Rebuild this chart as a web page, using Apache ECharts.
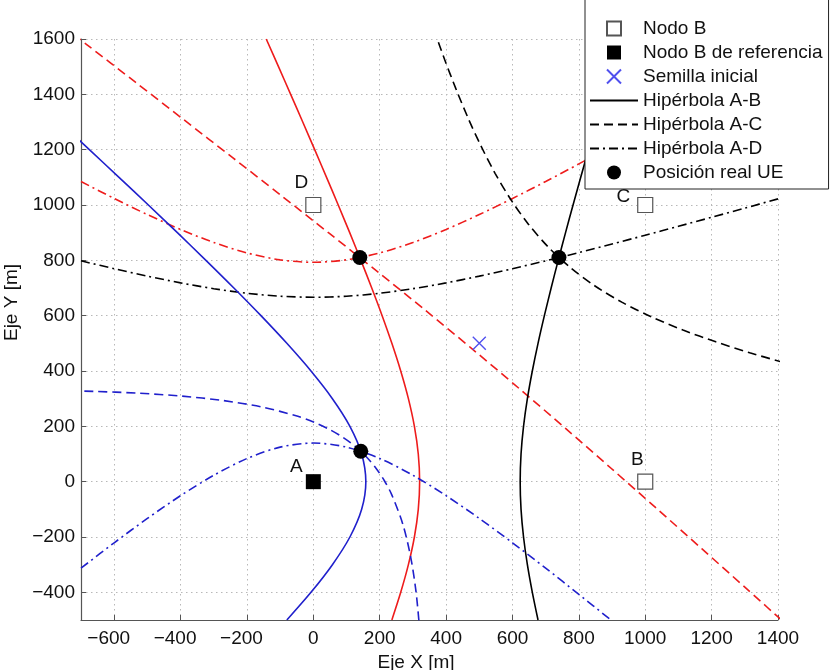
<!DOCTYPE html>
<html><head><meta charset="utf-8">
<script src="https://cdn.jsdelivr.net/npm/echarts@6/dist/echarts.min.js"></script>
<style>html,body{margin:0;padding:0;background:#fff}#c{width:830px;height:670px}</style>
</head><body><div id="c"></div>
<script>
// ---- tick labels ----
const xTicks = [-600,-400,-200,0,200,400,600,800,1000,1200,1400];
const yTicks = [-400,-200,0,200,400,600,800,1000,1200,1400,1600];

// ---- nodes ----
const refNode = [[0,0]];            // A
const refNodeName = ['A'];
const nodes = [[1000,0],[1000,1000],[0,1000]];   // B, C, D
const nodeNames = ['B','C','D'];
const seed = [[500,500]];
const uePositions = [[140,810],[740,810],[143,110]];

// ---- red hyperbolas (UE 1) ----
const redAB = [[236.6,-500],[263.3,-400],[286.4,-300],[304.5,-200],[316.2,-100],[320.3,0],[316.2,100],[304.5,200],[286.4,300],[263.3,400],[236.6,500],[207.3,600],[176.0,700],[143.3,800],[109.6,900],[75.0,1000],[39.8,1100],[4.1,1200],[-31.9,1300],[-68.3,1400],[-105.0,1500],[-141.9,1600]];
const redAC = [[-756.2,1648.0],[-682.8,1580.0],[-536.0,1443.9],[-389.5,1307.6],[-243.1,1171.1],[-97.0,1034.4],[48.5,897.0],[193.3,759.0],[337.0,619.9],[479.2,479.2],[619.9,337.0],[759.0,193.3],[897.0,48.5],[1034.4,-97.0],[1171.1,-243.1],[1307.6,-389.5],[1443.9,-536.0]];
const redAD = [[-700,1084.9],[-600,1023.6],[-500,965.4],[-400,911.7],[-300,864.6],[-200,826.8],[-100,801.8],[0,793.0],[100,801.8],[200,826.8],[300,864.6],[400,911.7],[500,965.4],[600,1023.6],[700,1084.9],[800,1148.5],[900,1213.8],[1000,1280.3],[1100,1347.7],[1200,1416.0],[1300,1484.7],[1400,1554.0]];

// ---- black hyperbolas (UE 2) ----
const blackAB = [[677.0,-500],[659.8,-400],[644.9,-300],[633.3,-200],[625.8,-100],[623.2,0],[625.8,100],[633.3,200],[644.9,300],[659.8,400],[677.0,500],[696.1,600],[716.5,700],[737.8,800],[759.9,900],[782.5,1000],[829.0,1200],[876.6,1400],[925.0,1600]];
const blackAC = [[362.7,1635.5],[395.3,1526.7],[429.7,1419.7],[466.1,1314.7],[505.4,1212.5],[548.0,1113.7],[595.2,1019.4],[647.9,930.8],[707.3,848.7],[774.1,774.1],[848.7,707.3],[930.8,647.9],[1019.4,595.2],[1113.7,548.0],[1212.5,505.4],[1314.7,466.1],[1419.7,429.7]];
const blackAD = [[-700,798.2],[-600,769.7],[-500,742.9],[-400,718.5],[-300,697.5],[-200,681.0],[-100,670.3],[0,666.6],[100,670.3],[200,681.0],[300,697.5],[400,718.5],[500,742.9],[600,769.7],[700,798.2],[800,828.1],[900,859.0],[1000,890.7],[1100,922.9],[1200,955.6],[1300,988.7],[1400,1022.1]];

// ---- blue hyperbolas (UE 3) ----
const blueAB = [[-79.8,-500],[-7.1,-400],[57.5,-300],[110.2,-200],[145.6,-100],[158.2,0],[145.6,100],[110.2,200],[57.5,300],[-7.1,400],[-79.8,500],[-157.8,600],[-239.4,700],[-323.6,800],[-409.6,900],[-497.0,1000],[-585.5,1100],[-674.8,1200],[-719.6,1250]];
const blueAC = [[-732.1,328.6],[-663.5,326.5],[-528.6,319.9],[-397.7,309.4],[-272.4,293.3],[-154.5,269.8],[-46.7,236.1],[2.4,214.5],[47.9,189.3],[89.4,160.2],[126.9,126.9],[160.2,89.4],[189.3,47.9],[214.5,2.4],[236.1,-46.7],[269.8,-154.5],[293.3,-272.4],[309.4,-397.7],[319.9,-528.6]];
const blueAD = [[-700,-312.7],[-600,-220.9],[-500,-132.9],[-400,-50.6],[-300,23.1],[-200,83.7],[-100,124.8],[0,139.5],[100,124.8],[200,83.7],[300,23.1],[400,-50.6],[500,-132.9],[600,-220.9],[700,-312.7],[800,-407.1],[900,-503.5]];

// ---- styles (not data) ----
const RED = '#ee1c1c', BLUE = '#2020cc', BLACK = '#000';
const SOLID = 'solid', DASH = [9,5], DASHDOT = [9,4,2,4];
const refLabelOffset = [[-17,-15]];
const nodeLabelOffset = [[-8,-22],[-22,-8],[-12,-22]];
const FONT = 'Liberation Sans, Arial, Helvetica, sans-serif';
const FS = 19;
const SQUARE = 'path://M0,0L10,0L10,10L0,10Z';

function curve(name, data, color, type){
  return {name, type:'line', data, smooth:0.3, symbol:'none', showSymbol:false,
    clip:true, silent:true, z:2,
    lineStyle:{color, width:1.6, type}, itemStyle:{color}};
}
function tickFmt(list){
  return v => {
    if (!list.includes(v)) return '';
    return v < 0 ? '{neg|\u2212' + Math.abs(v) + '}' : String(v);
  };
}
const labelStyle = {fontSize:FS, color:'#111', fontFamily:FONT};

const chart = echarts.init(document.getElementById('c'), null, {renderer:'canvas'});
chart.setOption({
  animation:false,
  backgroundColor:'#fff',
  textStyle:{fontFamily:FONT},
  grid:{left:81, right:52, top:39, bottom:50, containLabel:false, outerBoundsMode:'none'},
  xAxis:{type:'value', min:-700, max:1400, minInterval:200, maxInterval:200, splitNumber:10,
    name:'Eje X [m]', nameLocation:'middle', nameGap:31,
    nameTextStyle:{fontSize:FS, color:'#111', fontFamily:FONT, padding:[0,27,0,0]},
    axisLine:{onZero:false, lineStyle:{color:'#555', width:1.2}},
    axisTick:{inside:true, length:5, lineStyle:{color:'#555'}},
    axisLabel:Object.assign({margin:9, showMinLabel:true, showMaxLabel:true,
      formatter:tickFmt(xTicks), rich:{neg:Object.assign({padding:[0,11,0,0]}, labelStyle)}}, labelStyle),
    splitLine:{show:true, lineStyle:{color:'#b8b8b8', type:[1.5,3.5], width:1}}},
  yAxis:{type:'value', min:-500, max:1600, minInterval:200, maxInterval:200, splitNumber:10,
    name:'Eje Y [m]', nameLocation:'middle', nameGap:59, nameRotate:90,
    nameTextStyle:{fontSize:FS, color:'#111', fontFamily:FONT, padding:[0,0,0,54]},
    axisLine:{onZero:false, lineStyle:{color:'#555', width:1.2}},
    axisTick:{inside:true, length:5, lineStyle:{color:'#555'}},
    axisLabel:Object.assign({margin:6, formatter:tickFmt(yTicks),
      rich:{neg:Object.assign({}, labelStyle)}}, labelStyle),
    splitLine:{show:true, lineStyle:{color:'#b8b8b8', type:[1.5,3.5], width:1}}},
  legend:{
    orient:'vertical', left:585, top:-1,
    data:[
      {name:'Nodo B'},
      {name:'Nodo B de referencia'},
      {name:'Semilla inicial'},
      {name:'Hipérbola A-B', itemStyle:{opacity:0}},
      {name:'Hipérbola A-C', itemStyle:{opacity:0}},
      {name:'Hipérbola A-D', itemStyle:{opacity:0}},
      {name:'Posición real UE'}
    ],
    backgroundColor:'#fff', borderColor:'#222', borderWidth:1,
    padding:[20,6,7,4], itemWidth:48, itemHeight:14, itemGap:5,
    textStyle:{fontSize:FS, color:'#111', fontFamily:FONT}, selectedMode:false, z:10
  },
  series:[
    curve('rojo A-B', redAB, RED, SOLID),
    curve('rojo A-C', redAC, RED, DASH),
    curve('rojo A-D', redAD, RED, DASHDOT),
    curve('Hipérbola A-B', blackAB, BLACK, SOLID),
    curve('Hipérbola A-C', blackAC, BLACK, DASH),
    curve('Hipérbola A-D', blackAD, BLACK, DASHDOT),
    curve('azul A-B', blueAB, BLUE, SOLID),
    curve('azul A-C', blueAC, BLUE, DASH),
    curve('azul A-D', blueAD, BLUE, DASHDOT),
    {name:'Nodo B', type:'scatter', z:5, symbol:SQUARE, symbolSize:15,
      itemStyle:{color:'#fff', borderColor:'#555', borderWidth:1.2, opacity:1},
      label:{show:true, position:'inside', fontSize:FS, color:'#111', fontFamily:FONT},
      data: nodes.map((p,i)=>({value:p, label:{formatter:nodeNames[i], offset:nodeLabelOffset[i]}}))},
    {name:'Nodo B de referencia', type:'scatter', z:5, symbol:SQUARE, symbolSize:15,
      itemStyle:{color:'#000', opacity:1},
      label:{show:true, position:'inside', fontSize:FS, color:'#111', fontFamily:FONT},
      data: refNode.map((p,i)=>({value:p, label:{formatter:refNodeName[i], offset:refLabelOffset[i]}}))},
    {name:'Semilla inicial', type:'scatter', z:5, symbol:'path://M0,0L10,10M10,0L0,10', symbolSize:13,
      itemStyle:{color:'transparent', borderColor:'#5050ee', borderWidth:1.4, opacity:1},
      data: seed},
    {name:'Posición real UE', type:'scatter', z:6, symbol:'circle', symbolSize:15,
      itemStyle:{color:'#000', opacity:1}, data: uePositions}
  ]
});
</script></body></html>
